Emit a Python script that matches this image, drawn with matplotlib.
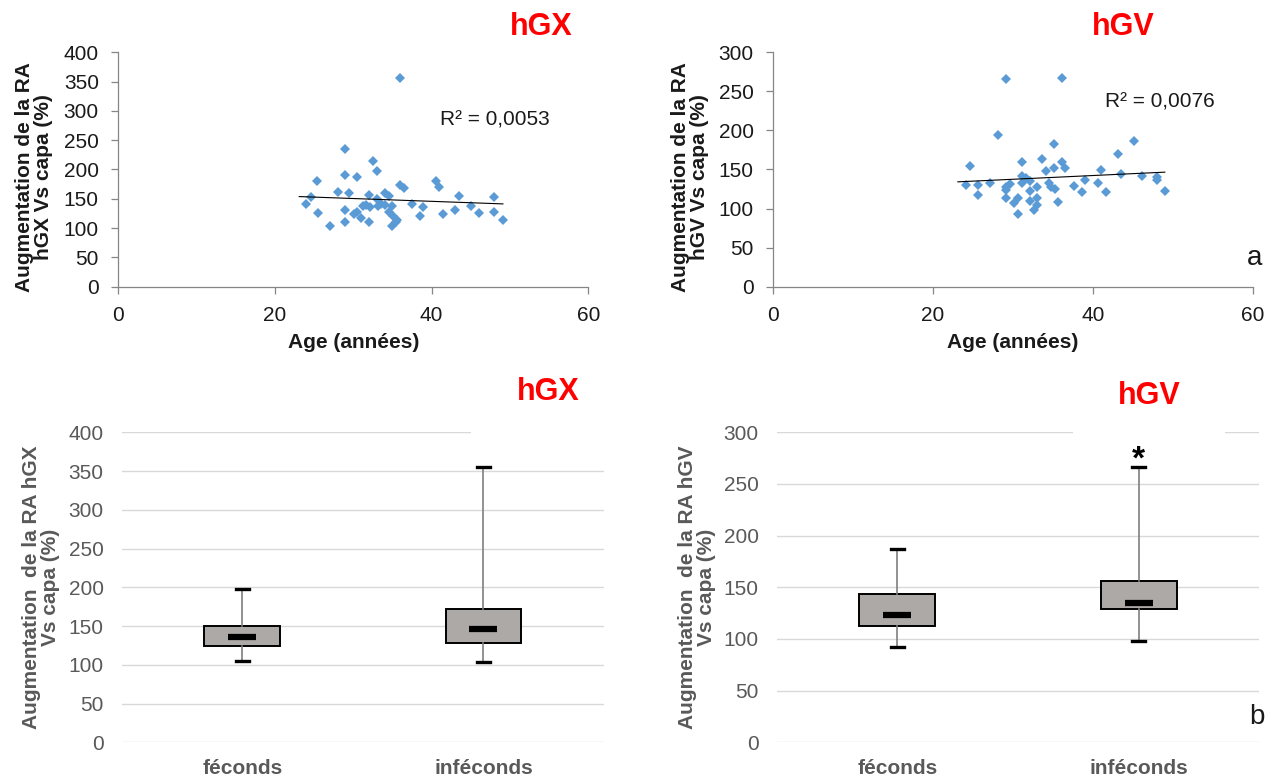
import matplotlib
matplotlib.use('Agg')
import matplotlib.pyplot as plt
from matplotlib.patches import Rectangle

plt.rcParams['font.family'] = ['Liberation Sans', 'DejaVu Sans']

# ---------------- data ----------------
hgx_age = [36.0, 29.0, 32.5, 33.0, 29.0, 30.5, 25.4, 40.6, 41.0, 35.9, 36.5, 28.0, 29.4,
           24.6, 24.0, 25.5, 27.0, 29.0, 29.0, 30.1, 31.0, 32.0, 32.0, 31.3, 32.1, 33.0,
           33.1, 34.1, 34.6, 34.0, 35.0, 34.6, 35.1, 35.4, 35.0, 37.5, 38.9, 38.5, 41.5,
           43.0, 43.5, 45.0, 46.0, 48.0, 48.0, 49.1, 31.6, 30.5, 33.5, 35.6]
hgx_val = [356, 235, 215, 197, 191, 188, 181, 181, 170, 173, 168, 162, 160,
           153, 141, 125, 103, 131, 110, 124, 117, 110, 156, 138, 136, 150,
           137, 160, 154, 139, 137, 127, 120, 111, 104, 141, 136, 120, 124,
           131, 155, 137, 125, 153, 127, 113, 140, 128, 141, 113]

hgv_age = [29.1, 36.1, 28.1, 35.1, 45.1, 43.1, 24.6, 31.1, 33.6, 36.1, 36.5, 35.1, 34.1,
           41.0, 43.5, 46.1, 48.0, 48.0, 49.0, 24.1, 25.6, 25.6, 27.1, 29.1, 29.1, 29.1,
           29.6, 30.6, 30.1, 30.6, 31.1, 31.1, 31.6, 32.1, 32.1, 32.1, 33.0, 33.0, 33.0,
           32.6, 34.5, 34.7, 35.2, 35.6, 37.6, 39.0, 38.6, 40.6, 41.6]
hgv_val = [266, 267, 194, 182, 187, 170, 155, 160, 163, 160, 152, 152, 148,
           149, 144, 142, 141, 136, 123, 130, 130, 117, 133, 128, 124, 114,
           132, 113, 107, 93, 142, 133, 139, 135, 122, 110, 127, 113, 104,
           98, 133, 127, 125, 108, 129, 136, 121, 133, 121]

# trend lines
trend_hgx_x = [23.1, 49.1]
trend_hgx_y = [153.8, 141.3]
trend_hgv_x = [23.1, 49.0]
trend_hgv_y = [134.2, 146.6]
r2_hgx = "R² = 0,0053"
r2_hgv = "R² = 0,0076"

groups = ["féconds", "inféconds"]
# whisker low, Q1, median, Q3, whisker high
hgx_low = [105.4, 103.2]
hgx_q1 = [123.9, 127.7]
hgx_med = [135.5, 146.7]
hgx_q3 = [150.5, 171.6]
hgx_high = [197.4, 355.7]

hgv_low = [92.3, 98.4]
hgv_q1 = [112.6, 129.0]
hgv_med = [122.9, 135.2]
hgv_q3 = [143.5, 155.8]
hgv_high = [187.1, 266.8]
hgv_star_y = 280

# ---------------- figure ----------------
W, H = 1279, 778
fig = plt.figure(figsize=(W / 100, H / 100), dpi=100)


def ax_px(l, t, r, b):
    return fig.add_axes([l / W, 1 - b / H, (r - l) / W, (b - t) / H])


def ftext(x, y, s, **kw):
    return fig.text(x / W, 1 - y / H, s, **kw)


AX_COL = '#868686'
TXT = '#1a1a1a'
GREY = '#595959'
BLUE = '#5B9BD5'

ax1 = ax_px(118.3, 52.3, 588.3, 286.7)
ax2 = ax_px(773.3, 52.3, 1252.7, 286.7)

for ax, xs, ys, tx, ty, ymax in [(ax1, hgx_age, hgx_val, trend_hgx_x, trend_hgx_y, 400),
                                  (ax2, hgv_age, hgv_val, trend_hgv_x, trend_hgv_y, 300)]:
    ax.plot(xs, ys, linestyle='none', marker='D', markersize=5.2, color=BLUE,
            markeredgewidth=0, clip_on=False, zorder=3)
    ax.plot(tx, ty, color='black', linewidth=0.8, zorder=4)
    ax.set_xlim(0, 60)
    ax.set_ylim(0, ymax)
    ax.set_xticks([0, 20, 40, 60])
    ax.set_yticks(list(range(0, ymax + 1, 50)))
    for s in ['top', 'right']:
        ax.spines[s].set_visible(False)
    for s in ['left', 'bottom']:
        ax.spines[s].set_color(AX_COL)
        ax.spines[s].set_linewidth(0.9)
    ax.tick_params(colors=AX_COL, labelcolor=TXT, labelsize=15, length=5, width=0.9, pad=9)
    ax.set_xlabel('Age (années)', fontsize=15, fontweight='bold', color=TXT, labelpad=6)

ftext(34, 177, 'Augmentation de la RA\nhGX Vs capa (%)', rotation=90, ha='center',
      va='center', multialignment='center', fontsize=15, fontweight='bold', color=TXT,
      linespacing=1.0)
ftext(690, 177, 'Augmentation de la RA\nhGV Vs capa (%)', rotation=90, ha='center',
      va='center', multialignment='center', fontsize=15, fontweight='bold', color=TXT,
      linespacing=1.0)

ftext(440, 120, r2_hgx, ha='left', va='center', fontsize=15, color=TXT)
ftext(1105, 101.5, r2_hgv, ha='left', va='center', fontsize=15, color=TXT)

ftext(541, 27, 'hGX', ha='center', va='center', fontsize=22, fontweight='bold', color='#FF0000')
ftext(1123, 27, 'hGV', ha='center', va='center', fontsize=22, fontweight='bold', color='#FF0000')
ftext(1255, 258, 'a', ha='center', va='center', fontsize=20, color=TXT)

# ---------------- box plots ----------------
ax3 = ax_px(121.7, 432.3, 604, 742.3)
ax4 = ax_px(776.7, 432.3, 1259.3, 742.3)

pos = [0.5, 1.5]
for ax, lo, q1, med, q3, hi, ymax in [(ax3, hgx_low, hgx_q1, hgx_med, hgx_q3, hgx_high, 400),
                                       (ax4, hgv_low, hgv_q1, hgv_med, hgv_q3, hgv_high, 300)]:
    stats = []
    for i, g in enumerate(groups):
        stats.append(dict(label=g, whislo=lo[i], q1=q1[i], med=med[i], q3=q3[i],
                          whishi=hi[i], fliers=[]))
    ax.bxp(stats, positions=pos, widths=0.314, patch_artist=True, showfliers=False,
           capwidths=0.053,
           boxprops=dict(facecolor='#ADA9A7', edgecolor='black', linewidth=1.4),
           whiskerprops=dict(color='#7f7f7f', linewidth=1.2),
           capprops=dict(color='black', linewidth=2.4),
           medianprops=dict(visible=False))
    ax.hlines(med, [p - 0.058 for p in pos], [p + 0.058 for p in pos], colors='black',
              linewidth=4.5, zorder=5)
    ax.set_xlim(0, 2)
    ax.set_ylim(0, ymax)
    ax.set_yticks(list(range(0, ymax + 1, 50)))
    ax.set_xticks(pos)
    ax.set_xticklabels(groups, fontsize=15, fontweight='bold', color=GREY)
    for s in ax.spines.values():
        s.set_visible(False)
    ax.yaxis.grid(True, color='#d9d9d9', linewidth=1.0)
    ax.set_axisbelow(True)
    ax.tick_params(axis='y', length=0, labelsize=15, labelcolor=GREY, pad=13)
    ax.tick_params(axis='x', length=0, pad=12)

ax4.annotate('*', xy=(1.5, hgv_star_y), xytext=(0, -11), textcoords='offset points',
             ha='center', va='baseline', fontsize=24, fontweight='bold', color='black')

ftext(41, 587, 'Augmentation  de la RA hGX\nVs capa (%)', rotation=90, ha='center',
      va='center', multialignment='center', fontsize=15, fontweight='bold', color=GREY,
      linespacing=1.0)
ftext(697, 587, 'Augmentation  de la RA hGV\nVs capa (%)', rotation=90, ha='center',
      va='center', multialignment='center', fontsize=15, fontweight='bold', color=GREY,
      linespacing=1.0)

# white boxes behind the titles that hide part of the top gridline
for (x0, x1) in [(471, 612), (1073, 1225)]:
    fig.add_artist(Rectangle((x0 / W, 1 - 438 / H), (x1 - x0) / W, 12 / H,
                             transform=fig.transFigure, facecolor='white',
                             edgecolor='none', zorder=2))

ftext(548, 392, 'hGX', ha='center', va='center', fontsize=22, fontweight='bold', color='#FF0000')
ftext(1149, 396, 'hGV', ha='center', va='center', fontsize=22, fontweight='bold', color='#FF0000')
ftext(1257, 717, 'b', ha='center', va='center', fontsize=20, color=TXT)

fig.savefig('out.png', dpi=100)
